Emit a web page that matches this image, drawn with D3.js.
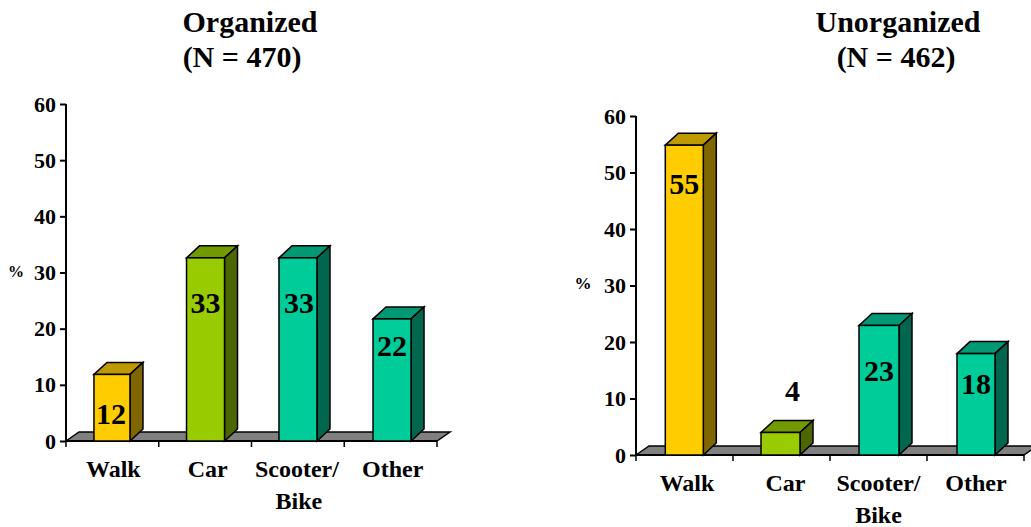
<!DOCTYPE html>
<html><head><meta charset="utf-8">
<script src="https://cdn.jsdelivr.net/npm/d3@7"></script>
<style>html,body{margin:0;background:#fff;overflow:hidden}svg{display:block}
text{font-family:"Liberation Serif","Times New Roman",serif;font-weight:bold;fill:#000}</style>
</head><body><svg id="c" width="1031" height="527"></svg>
<script>
const categories = ["Walk","Car","Scooter/|Bike","Other"];
const organizedValues = [12,33,33,22];
const unorganizedValues = [55,4,23,18];
const yTicks = [0,10,20,30,40,50,60];
const barColors = ["#ffcc00","#99cc00","#00cc99","#00cc99"];
const topColors = ["#bf9900","#739900","#009973","#009973"];
const sideColors = ["#806600","#4d6600","#00664d","#00664d"];

const svg = d3.select("#c");
function panel(o){
  const x = d3.scaleBand().domain(categories).range([o.x0,o.x1]);
  const y = d3.scaleLinear().domain([0,60]).range([o.y0,o.y1]);
  const yb = d3.scaleLinear().domain([0,60]).range([o.y0,o.barY1]);
  const g = svg.append("g");
  const dx=13, dy=12, fy=9;
  g.append("path").attr("d",`M${o.x0},${o.y0}L${o.x0+dx},${o.y0-fy}L${o.x1+dx},${o.y0-fy}L${o.x1},${o.y0}Z`)
    .attr("fill","#808080").attr("stroke","#000").attr("stroke-width",1.5);
  const ya = g.append("g").attr("transform",`translate(${o.x0},0)`)
    .call(d3.axisLeft(y).tickValues(yTicks).tickSize(6).tickPadding(4));
  ya.select(".domain").attr("stroke-width",2).attr("d",`M0,${o.y1}V${o.y0}`);
  ya.selectAll(".tick line").attr("stroke-width",2);
  ya.selectAll("text").style("font-size","22px").style("font-family",null);
  const edges = d3.range(categories.length+1).map(i=>o.x0+i*x.step());
  g.selectAll(".xt").data(edges).join("line").attr("x1",d=>d).attr("x2",d=>d)
    .attr("y1",o.y0).attr("y2",o.y0+6).attr("stroke","#000").attr("stroke-width",1.5);
  g.append("line").attr("x1",o.x0).attr("x2",o.x1).attr("y1",o.y0).attr("y2",o.y0).attr("stroke","#000").attr("stroke-width",2);
  const bars = g.selectAll(".b").data(o.values).join("g");
  const cx=(d,i)=>x(categories[i])+x.step()/2+o.off[i];
  const w=(i)=>o.barW[i];
  bars.append("path").attr("d",(d,i)=>{const l=cx(d,i)-w(i)/2,r=l+w(i),t=yb(d);return `M${l},${t}L${l+dx},${t-dy}L${r+dx},${t-dy}L${r},${t}Z`})
    .attr("fill",(d,i)=>topColors[i]).attr("stroke","#000").attr("stroke-width",1.5);
  bars.append("path").attr("d",(d,i)=>{const r=cx(d,i)+w(i)/2,t=yb(d);return `M${r},${t}L${r+dx},${t-dy}L${r+dx},${o.y0-dy}L${r},${o.y0}Z`})
    .attr("fill",(d,i)=>sideColors[i]).attr("stroke","#000").attr("stroke-width",1.5);
  bars.append("rect").attr("x",(d,i)=>cx(d,i)-w(i)/2).attr("y",d=>yb(d)).attr("width",(d,i)=>w(i)).attr("height",d=>o.y0-yb(d))
    .attr("fill",(d,i)=>barColors[i]).attr("stroke","#000").attr("stroke-width",1.5);
  g.selectAll(".v").data(o.values).join("text").attr("text-anchor","middle").style("font-size","30px")
    .attr("x",(d,i)=>cx(d,i)+o.labelDx[i])
    .attr("y",(d,i)=>yb(d)+o.labelDy[i]).text(d=>d);
  categories.forEach((c,i)=>{
    c.split("|").forEach((s,j)=>{
      g.append("text").attr("text-anchor","middle").style("font-size","24px")
       .attr("x",x(c)+x.step()/2+o.catDx[i]+(j?o.bikeDx:0)).attr("y",o.y0+o.catY+j*32).text(s);
    });
  });
  o.title.forEach((s,j)=>g.append("text").attr("text-anchor","middle").style("font-size","30px")
    .attr("x",o.titleX[j]).attr("y",32+j*35).text(s));
  g.append("text").attr("x",o.pctX).attr("y",o.pctY).attr("text-anchor","middle").style("font-size",o.pctSize).text("%");
}
panel({x0:66,x1:437,y0:441,y1:104,barY1:108,values:organizedValues,barW:[36,38,38,38],off:[-0.4,0.4,0.1,1.4],
  title:["Organized","(N = 470)"],titleX:[250,242],
  labelDy:[50,55,55,37],labelDx:[-1,0,1,0],catDx:[1,2.5,-1,2],bikeDx:2,catY:36,pctX:16,pctY:277,pctSize:"16px"});
panel({x0:636,x1:1024,y0:455,y1:116,barY1:117,values:unorganizedValues,barW:[38,39,40,38],off:[-0.2,-1,0.5,0.5],
  title:["Unorganized","(N = 462)"],titleX:[898,896],
  labelDy:[49,-31,55.5,40.5],labelDx:[0,12,0,0],catDx:[2.5,4,0,0.5],bikeDx:0,catY:36,pctX:583,pctY:289,pctSize:"17px"});
</script></body></html>
